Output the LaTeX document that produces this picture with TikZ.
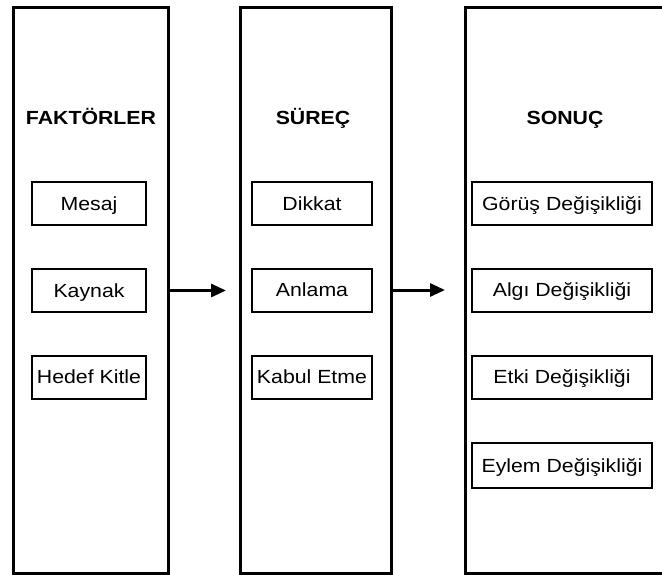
\documentclass[tikz,border=0pt]{standalone}
\usepackage{fontspec}
\setmainfont[FakeStretch=1.12]{Liberation Sans}
\usetikzlibrary{arrows.meta}

\tikzset{
  panel/.style={draw, line width=3pt, anchor=north west, minimum height=566pt},
  title/.style={font=\fontsize{19}{23}\selectfont\bfseries, text height=13.6pt, text depth=0pt},
  item/.style={draw, line width=2pt, minimum height=43pt, inner sep=0pt, text height=13.6pt, text depth=0pt},
  flow/.style={-{Triangle[length=15pt,width=13pt]}, line width=3pt}
}

\begin{document}
\begin{tikzpicture}[x=1pt,y=-1pt,font=\fontsize{19}{23}\selectfont]

\path[use as bounding box] (0,0) rectangle (662,575);
\clip (0,0) rectangle (662,575);

% Panels
\node[panel, minimum width=155pt] (faktor) at (12,6) {};
\node[panel, minimum width=151pt] (surec) at (239,6) {};
\node[panel, minimum width=215pt] (sonuc) at (464,6) {};

% Titles
\node[title] (faktorT) at (91,118) {FAKTÖRLER};
\node[title] (surecT) at (313,118) {SÜREÇ};
\node[title] (sonucT) at (565,118) {SONUÇ};

% Boxes
\node[item, minimum width=114pt] (mesaj) at (89,203.5) {Mesaj};
\node[item, minimum width=114pt] (kaynak) at (89,290.5) {Kaynak};
\node[item, minimum width=114pt] (hedef) at (89,377) {Hedef Kitle};

\node[item, minimum width=120pt] (dikkat) at (312,203.5) {Dikkat};
\node[item, minimum width=120pt] (anlama) at (312,290) {Anlama};
\node[item, minimum width=120pt] (kabul) at (312,377) {Kabul Etme};

\node[item, minimum width=180pt] (gorus) at (562,203.5) {Görüş Değişikliği};
\node[item, minimum width=180pt] (algi) at (562,290) {Algı Değişikliği};
\node[item, minimum width=180pt] (etki) at (562,377) {Etki Değişikliği};
\node[item, minimum width=180pt, minimum height=45pt] (eylem) at (562,465.5) {Eylem Değişikliği};

% Arrows
\draw[flow, shorten >=13pt] (kaynak.east -| faktor.east) -- (kaynak.east -| surec.west);
\draw[flow, shorten >=19pt] (anlama.east -| surec.east) -- (anlama.east -| sonuc.west);

\end{tikzpicture}
\end{document}
